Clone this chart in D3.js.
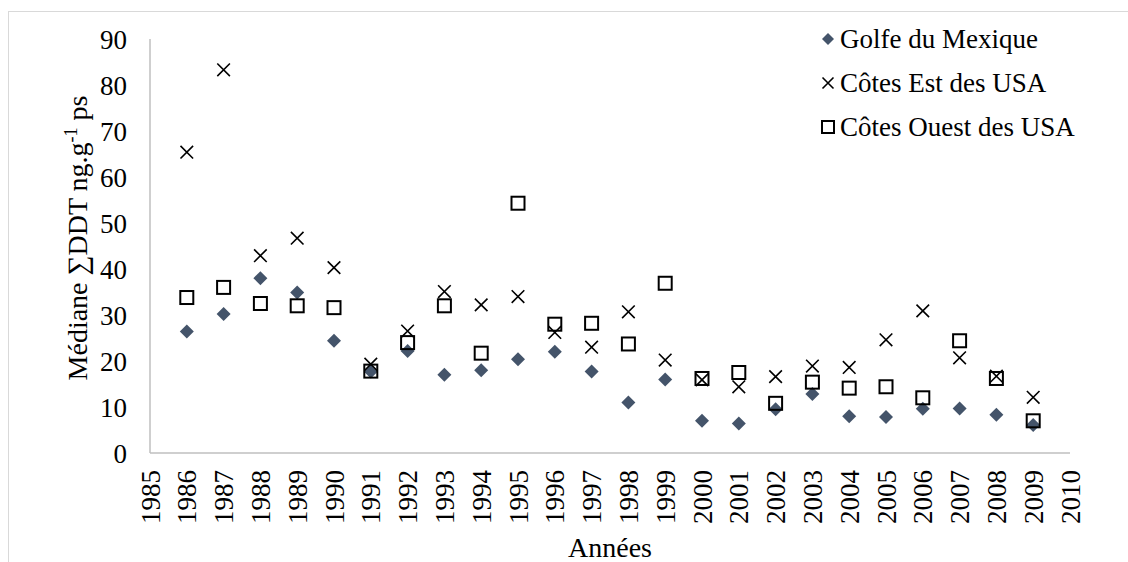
<!DOCTYPE html>
<html>
<head>
<meta charset="utf-8">
<script src="https://cdn.jsdelivr.net/npm/d3@7"></script>
<style>
  html, body { margin: 0; padding: 0; background: #fff; }
  svg, svg text, svg tspan { font-family: "Liberation Serif", "Times New Roman", Times, "DejaVu Serif", serif !important; }
</style>
</head>
<body>
<svg id="chart" width="1128" height="562"></svg>
<script>
const years = [1986,1987,1988,1989,1990,1991,1992,1993,1994,1995,1996,1997,1998,1999,2000,2001,2002,2003,2004,2005,2006,2007,2008,2009];
const golfe = [26.4,30.2,38.0,34.9,24.4,17.7,22.2,17.0,18.0,20.4,22.0,17.7,11.0,16.0,7.0,6.4,9.5,12.8,8.0,7.8,9.6,9.7,8.3,6.1];
const est   = [65.4,83.3,42.9,46.7,40.3,19.3,26.5,35.1,32.2,34.0,26.2,23.0,30.7,20.2,15.9,14.4,16.6,18.9,18.6,24.6,30.9,20.7,16.7,12.1];
const ouest = [33.8,36.0,32.5,32.0,31.6,17.8,24.0,32.0,21.7,54.3,28.0,28.2,23.7,36.9,16.2,17.5,10.8,15.4,14.1,14.4,12.0,24.4,16.2,7.0];
const xTicks = d3.range(1985, 2011);
const yTicks = [0,10,20,30,40,50,60,70,80,90];
const seriesNames = ["Golfe du Mexique", "Côtes Est des USA", "Côtes Ouest des USA"];

const FONT = '"Liberation Serif", "Times New Roman", Times, serif';
const svg = d3.select("#chart").attr("font-family", FONT);
const axisColor = "#bfbfbf";
const fs = 27;

// outer chart border
svg.append("rect").attr("x", 8.5).attr("y", 11.5).attr("width", 1140).attr("height", 600)
  .attr("fill", "none").attr("stroke", "#d9d9d9").attr("stroke-width", 1);

const x = d3.scaleLinear().domain([1985, 2010]).range([150, 1070]);
const y = d3.scaleLinear().domain([0, 90]).range([453, 39]);

// axes lines
svg.append("line").attr("x1", x(1985)).attr("x2", x(1985)).attr("y1", y(90)).attr("y2", y(0))
  .attr("stroke", axisColor).attr("stroke-width", 1.5);
svg.append("line").attr("x1", x(1985)).attr("x2", x(2010)).attr("y1", y(0)).attr("y2", y(0))
  .attr("stroke", axisColor).attr("stroke-width", 1.5);

// y tick labels
const yAxis = d3.axisLeft(y).tickValues(yTicks).tickSize(0).tickPadding(0).tickFormat(d3.format("d"));
const gy = svg.append("g").attr("transform", `translate(127,0)`).call(yAxis);
gy.attr("font-family", FONT).attr("font-size", fs);
gy.select(".domain").remove();
gy.selectAll("text").attr("dy", "0.34em").style("font-family", FONT).style("font-size", fs + "px");

// x tick labels (rotated)
const xAxis = d3.axisBottom(x).tickValues(xTicks).tickSize(0).tickFormat(d3.format("d"));
const gx = svg.append("g").attr("transform", `translate(0,${y(0)})`).call(xAxis);
gx.attr("font-family", FONT).attr("font-size", fs);
gx.select(".domain").remove();
gx.selectAll("text")
  .style("font-family", FONT).style("font-size", fs + "px")
  .attr("text-anchor", "end")
  .attr("transform", "rotate(-90)")
  .attr("x", -17).attr("y", 0).attr("dy", "0.34em");

// axis titles
svg.append("text").attr("x", 610).attr("y", 557).attr("text-anchor", "middle")
  .style("font-family", FONT).style("font-size", "28px").text("Années");

const yl = svg.append("text").attr("transform", "translate(87,238) rotate(-90)")
  .attr("text-anchor", "middle").style("font-family", FONT).style("font-size", "28px");
yl.append("tspan").text("Médiane ∑DDT ng.g");
yl.append("tspan").attr("dy", -10).style("font-size", "18px").text("-1");
yl.append("tspan").attr("dy", 10).text(" ps");

// markers
const diamond = (s) => `M0,${-s}L${s},0L0,${s}L${-s},0Z`;
const cross = (s) => `M${-s},${-s}L${s},${s}M${-s},${s}L${s},${-s}`;
const golfeColor = "#44546a";

svg.append("g").selectAll("path").data(years.map((yr, i) => [yr, golfe[i]])).join("path")
  .attr("d", diamond(7)).attr("fill", golfeColor)
  .attr("transform", d => `translate(${x(d[0])},${y(d[1])})`);

svg.append("g").selectAll("path").data(years.map((yr, i) => [yr, est[i]])).join("path")
  .attr("d", cross(6.3)).attr("fill", "none").attr("stroke", "#000").attr("stroke-width", 1.6)
  .attr("transform", d => `translate(${x(d[0])},${y(d[1])})`);

svg.append("g").selectAll("rect").data(years.map((yr, i) => [yr, ouest[i]])).join("rect")
  .attr("x", d => x(d[0]) - 6.5).attr("y", d => y(d[1]) - 6.5).attr("width", 13).attr("height", 13)
  .attr("fill", "none").attr("stroke", "#000").attr("stroke-width", 2);

// legend
const legX = 828, legY0 = 39, legDy = 44;
const leg = svg.append("g");
seriesNames.forEach((name, i) => {
  const cy = legY0 + i * legDy;
  if (i === 0) leg.append("path").attr("d", diamond(6)).attr("fill", golfeColor).attr("transform", `translate(${legX},${cy})`);
  if (i === 1) leg.append("path").attr("d", cross(5.5)).attr("stroke", "#000").attr("stroke-width", 1.6).attr("fill", "none").attr("transform", `translate(${legX},${cy})`);
  if (i === 2) leg.append("rect").attr("x", legX - 6).attr("y", cy - 6).attr("width", 12).attr("height", 12).attr("fill", "none").attr("stroke", "#000").attr("stroke-width", 2);
  leg.append("text").attr("x", legX + 12).attr("y", cy).attr("dy", "0.33em")
    .style("font-family", FONT).style("font-size", fs + "px").text(name);
});
</script>
</body>
</html>
